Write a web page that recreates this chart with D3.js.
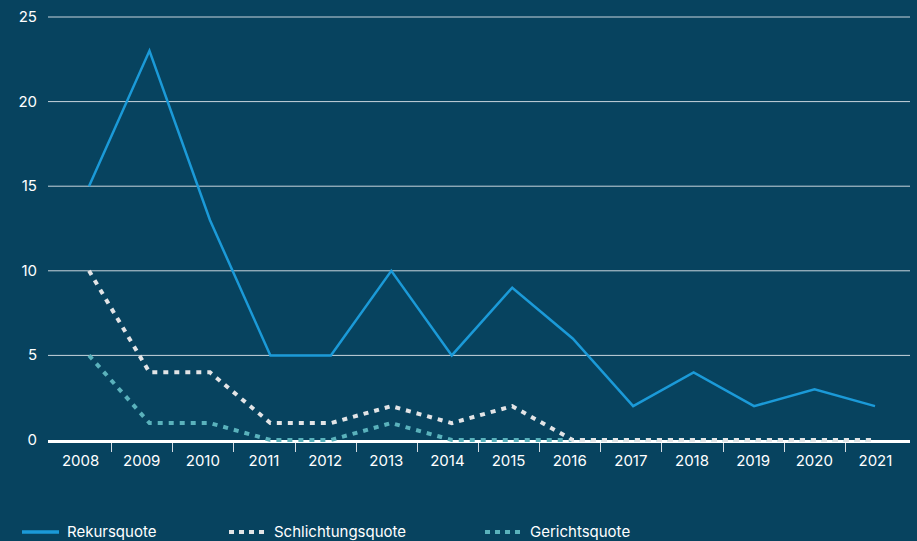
<!DOCTYPE html>
<html>
<head>
<meta charset="utf-8">
<script src="https://cdn.jsdelivr.net/npm/d3@7"></script>
<style>
  body { margin: 0; background: #07435f; }
  svg { display: block; font-family: Inter, "Noto Sans", sans-serif; }
</style>
</head>
<body>
<div id="chart"></div>
<script>
var years = ["2008", "2009", "2010", "2011", "2012", "2013", "2014", "2015", "2016", "2017", "2018", "2019", "2020", "2021"];
var rekursquote = [15, 23, 13, 5, 5, 10, 5, 9, 6, 2, 4, 2, 3, 2];
var schlichtungsquote = [10, 4, 4, 1, 1, 2, 1, 2, 0, 0, 0, 0, 0, 0];
var gerichtsquote = [5, 1, 1, 0, 0, 1, 0, 0, 0, 0, 0, 0, 0, 0];
var yTicks = [0, 5, 10, 15, 20, 25];

var width = 917, height = 541;

var series = [
    { name: "Rekursquote", values: rekursquote, color: "#1b9ad8", dash: null, w: 2.5 },
    { name: "Schlichtungsquote", values: schlichtungsquote, color: "#e2e4e6", dash: "5,6", w: 4 },
    { name: "Gerichtsquote", values: gerichtsquote, color: "#5ab2bc", dash: "5,6", w: 4 }
];

var svg = d3.select("#chart").append("svg")
    .attr("width", width)
    .attr("height", height);

svg.append("rect").attr("width", width).attr("height", height).attr("fill", "#07435f");

// y scale
var y = d3.scaleLinear().domain([0, 25]).range([440, 17]);

// band scale for axis labels, point scale for the lines
var xBand = d3.scaleBand().domain(years).range([50, 906]).padding(0);
var x = d3.scalePoint().domain(years).range([89, 875]);

// gridlines
svg.append("g")
    .selectAll("line")
    .data(yTicks.filter(function (d) { return d > 0; }))
    .enter().append("line")
    .attr("x1", 48).attr("x2", 910)
    .attr("y1", function (d) { return y(d); })
    .attr("y2", function (d) { return y(d); })
    .attr("stroke", "#c9d5dd")
    .attr("stroke-width", 1);

// y labels
svg.append("g")
    .selectAll("text")
    .data(yTicks)
    .enter().append("text")
    .attr("x", 37)
    .attr("y", function (d) { return y(d) + 5; })
    .attr("text-anchor", "end")
    .attr("fill", "#ffffff")
    .style("font-size", "15px")
    .text(function (d) { return d; });

// x axis
var xAxis = svg.append("g")
    .attr("transform", "translate(0,441)")
    .call(d3.axisBottom(xBand).tickSize(0).tickPadding(14));
xAxis.select(".domain").remove();
xAxis.selectAll("text")
    .attr("fill", "#ffffff")
    .style("font-size", "15px")
    .style("font-family", "Inter, 'Noto Sans', sans-serif");

// separators between years
svg.append("g")
    .selectAll("line")
    .data(years.slice(1))
    .enter().append("line")
    .attr("x1", function (d) { return Math.round(xBand(d)) + 0.5; })
    .attr("x2", function (d) { return Math.round(xBand(d)) + 0.5; })
    .attr("y1", 441).attr("y2", 452)
    .attr("stroke", "#d5dde3")
    .attr("stroke-width", 1);

// baseline
svg.append("line")
    .attr("x1", 48).attr("x2", 910)
    .attr("y1", 441.5).attr("y2", 441.5)
    .attr("stroke", "#ffffff")
    .attr("stroke-width", 3);

// lines
var line = d3.line()
    .x(function (d, i) { return x(years[i]); })
    .y(function (d) { return y(d); });

series.slice().reverse().forEach(function (s) {
    svg.append("path")
        .datum(s.values)
        .attr("fill", "none")
        .attr("stroke", s.color)
        .attr("stroke-width", s.w)
        .attr("stroke-dasharray", s.dash)
        .attr("d", line);
});

// legend
var legendX = [22, 229, 485];
var legend = svg.append("g");
series.forEach(function (s, i) {
    var g = legend.append("g").attr("transform", "translate(" + legendX[i] + ",532)");
    g.append("line")
        .attr("x1", 0).attr("x2", 37)
        .attr("y1", 0).attr("y2", 0)
        .attr("stroke", s.color)
        .attr("stroke-width", s.dash ? 4 : 3.5)
        .attr("stroke-dasharray", s.dash ? "5,5" : null);
    g.append("text")
        .attr("x", 45)
        .attr("y", 5)
        .attr("fill", "#ffffff")
        .style("font-size", "15px")
        .text(s.name);
});
</script>
</body>
</html>
